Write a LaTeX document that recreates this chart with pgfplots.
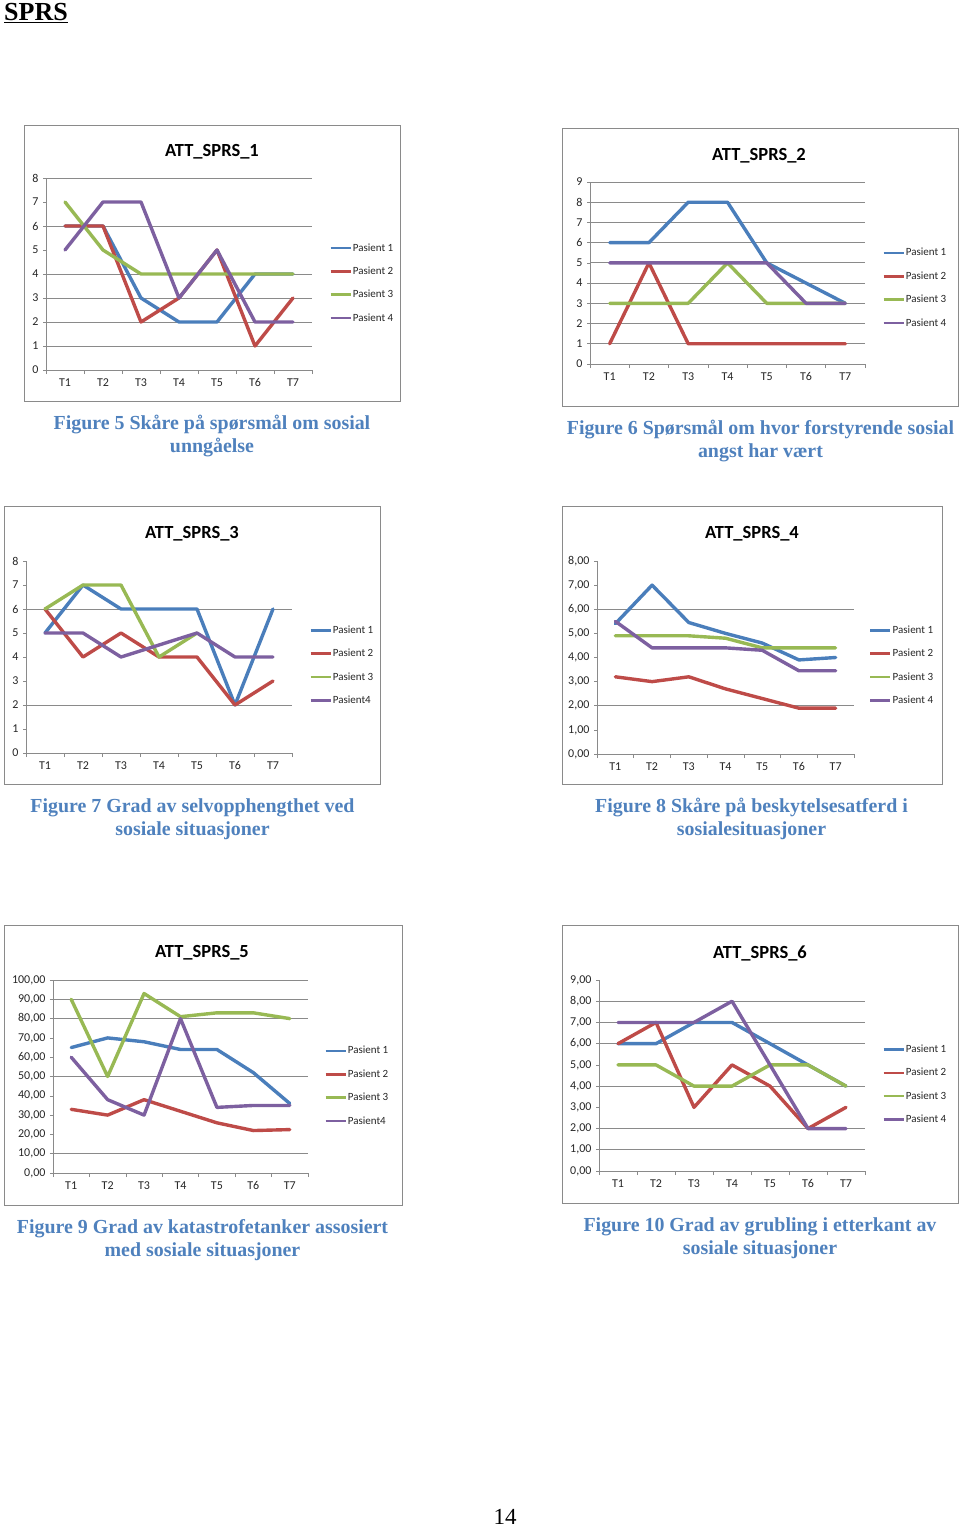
\documentclass[border=0pt]{standalone}
\usepackage{fontspec}
\setmainfont{Carlito}
\newfontfamily\tnr{Liberation Serif}
\usepackage{pgfplots}
\pgfplotsset{compat=1.18}
\definecolor{pblue}{HTML}{4A7EBB}
\definecolor{pred}{HTML}{BE4B48}
\definecolor{pgreen}{HTML}{98B954}
\definecolor{ppurple}{HTML}{7D60A0}
\definecolor{axgray}{HTML}{8A8A8A}
\definecolor{capblue}{HTML}{4F81BD}
\pgfplotsset{
  sprs/.style={
    scale only axis,
    axis lines*=left,
    axis line style={draw=axgray, line width=0.8pt},
    xmin=0.5, xmax=7.5,
    xtick={1,...,7},
    xticklabels={T1,T2,T3,T4,T5,T6,T7},
    minor xtick={0.5,1.5,...,7.5},
    major x tick style={draw=none},
    minor x tick style={draw=axgray, line width=0.6pt},
    ytick style={draw=axgray, line width=0.6pt},
    tick align=outside,
    major tick length=3pt, minor tick length=4pt,
    ymin=0,
    grid style={draw=axgray, line width=0.8pt},
    extra y tick labels={},
    extra y tick style={grid=major},
    tick label style={font=\fontsize{12}{14}\selectfont, text=black!85},
    /pgf/number format/assume math mode=true,
    xticklabel style={yshift=-2pt},
    yticklabel style={xshift=-1pt},
    clip=false,
    no markers,
    every axis plot/.append style={line width=3.4pt, line join=round, line cap=round},
    cycle list={{draw=pblue},{draw=pred},{draw=pgreen},{draw=ppurple}},
    legend entries={Pasient 1,Pasient 2,Pasient 3,Pasient 4},
    legend cell align=left,
    legend image code/.code={\draw[##1, line width=2.6pt, line cap=butt] (0pt,0pt) -- (20pt,0pt);},
    legend style={draw=none, fill=none, anchor=west, font=\fontsize{11}{13}\selectfont, text=black!85, inner sep=0pt, row sep=12.3pt, nodes={inner sep=1pt}},
  },
  comma/.style={yticklabel style={/pgf/number format/.cd, fixed, fixed zerofill, precision=2, use comma}},
}
\begin{document}
\begin{tikzpicture}
\path (0pt,0pt) rectangle (960pt,-1528pt);
% frames
\draw[axgray, line width=1pt] (24pt,-125pt) rectangle (400pt,-401pt);
\draw[axgray, line width=1pt] (562pt,-128pt) rectangle (958pt,-406pt);
\draw[axgray, line width=1pt] (4pt,-506pt) rectangle (380pt,-784pt);
\draw[axgray, line width=1pt] (562pt,-506pt) rectangle (942pt,-784pt);
\draw[axgray, line width=1pt] (4pt,-925pt) rectangle (402pt,-1205pt);
\draw[axgray, line width=1pt] (562pt,-925pt) rectangle (958pt,-1203pt);

% Chart 1
\begin{axis}[sprs, at={(46pt,-370pt)}, anchor=south west, width=266pt, height=192pt,
  ymax=8, ytick={0,...,8}, extra y ticks={1,2,3,4,6,8},
  legend style={at={(axis description cs:1.064,0.453)}}]
\addplot coordinates {(1,6) (2,6) (3,3) (4,2) (5,2) (6,4) (7,4)};
\addplot coordinates {(1,6) (2,6) (3,2) (4,3) (5,5) (6,1) (7,3)};
\addplot coordinates {(1,7) (2,5) (3,4) (4,4) (5,4) (6,4) (7,4)};
\addplot coordinates {(1,5) (2,7) (3,7) (4,3) (5,5) (6,2) (7,2)};
\end{axis}

% Chart 2
\begin{axis}[sprs, at={(590pt,-364pt)}, anchor=south west, width=275pt, height=182pt,
  ymax=9, ytick={0,...,9}, extra y ticks={1,...,9},
  legend style={at={(axis description cs:1.062,0.418)}}]
\addplot coordinates {(1,6) (2,6) (3,8) (4,8) (5,5) (6,4) (7,3)};
\addplot coordinates {(1,1) (2,5) (3,1) (4,1) (5,1) (6,1) (7,1)};
\addplot coordinates {(1,3) (2,3) (3,3) (4,5) (5,3) (6,3) (7,3)};
\addplot coordinates {(1,5) (2,5) (3,5) (4,5) (5,5) (6,3) (7,3)};
\end{axis}

% Chart 3
\begin{axis}[sprs, at={(26pt,-753pt)}, anchor=south west, width=266pt, height=192pt,
  ymax=8, ytick={0,...,8}, extra y ticks={2,6},
  legend entries={Pasient 1,Pasient 2,Pasient 3,Pasient4},
  legend style={at={(axis description cs:1.064,0.456)}}]
\addplot coordinates {(1,5) (2,7) (3,6) (4,6) (5,6) (6,2) (7,6)};
\addplot coordinates {(1,6) (2,4) (3,5) (4,4) (5,4) (6,2) (7,3)};
\addplot coordinates {(1,6) (2,7) (3,7) (4,4) (5,5)};
\addplot coordinates {(1,5) (2,5) (3,4) (4,4.5) (5,5) (6,4) (7,4)};
\end{axis}

% Chart 4
\begin{axis}[sprs, comma, at={(597pt,-754pt)}, anchor=south west, width=257pt, height=193pt,
  ymax=8, ytick={0,...,8}, extra y ticks={2,6},
  legend style={at={(axis description cs:1.058,0.459)}}]
\addplot coordinates {(1,5.4) (2,7.0) (3,5.45) (4,5.0) (5,4.6) (6,3.9) (7,4.0)};
\addplot coordinates {(1,3.2) (2,3.0) (3,3.2) (4,2.7) (5,2.3) (6,1.9) (7,1.9)};
\addplot coordinates {(1,4.9) (2,4.9) (3,4.9) (4,4.8) (5,4.4) (6,4.4) (7,4.4)};
\addplot coordinates {(1,5.5) (2,4.4) (3,4.4) (4,4.4) (5,4.3) (6,3.45) (7,3.45)};
\end{axis}

% Chart 5
\begin{axis}[sprs, comma, at={(53pt,-1173pt)}, anchor=south west, width=255pt, height=193pt,
  ymax=100, ytick={0,10,...,100}, extra y ticks={10,50,80,90,100},
  legend entries={Pasient 1,Pasient 2,Pasient 3,Pasient4},
  legend style={at={(axis description cs:1.063,0.451)}}]
\addplot coordinates {(1,65) (2,70) (3,68) (4,64) (5,64) (6,52) (7,36)};
\addplot coordinates {(1,33) (2,30) (3,38) (4,32) (5,26) (6,22) (7,22.5)};
\addplot coordinates {(1,90) (2,50) (3,93) (4,81) (5,83) (6,83) (7,80)};
\addplot coordinates {(1,60) (2,38) (3,30) (4,80) (5,34) (6,35) (7,35)};
\end{axis}

% Chart 6
\begin{axis}[sprs, comma, at={(599pt,-1171pt)}, anchor=south west, width=266pt, height=191pt,
  ymax=9, ytick={0,...,9}, extra y ticks={1,2,4,6,7,8},
  legend style={at={(axis description cs:1.064,0.453)}}]
\addplot coordinates {(1,6) (2,6) (3,7) (4,7) (5,6) (6,5) (7,4)};
\addplot coordinates {(1,6) (2,7) (3,3) (4,5) (5,4) (6,2) (7,3)};
\addplot coordinates {(1,5) (2,5) (3,4) (4,4) (5,5) (6,5) (7,4)};
\addplot coordinates {(1,7) (2,7) (3,7) (4,8) (5,5) (6,2) (7,2)};
\end{axis}

% chart titles
\begin{scope}[every node/.style={font=\bfseries\fontsize{18.5}{22}\selectfont, text=black}]
\node at (212pt,-152pt) {ATT\_SPRS\_1};
\node at (759pt,-156pt) {ATT\_SPRS\_2};
\node at (192pt,-534pt) {ATT\_SPRS\_3};
\node at (752pt,-534pt) {ATT\_SPRS\_4};
\node at (202pt,-953pt) {ATT\_SPRS\_5};
\node at (760pt,-953pt) {ATT\_SPRS\_6};
\end{scope}

% captions
\begin{scope}[every node/.style={font=\tnr\bfseries\fontsize{19.9}{23}\selectfont, text=capblue, align=center, inner sep=0pt}]
\node at (212pt,-436pt) {Figure 5 Skåre på spørsmål om sosial\\unngåelse};
\node at (760.5pt,-441pt) {Figure 6 Spørsmål om hvor forstyrende sosial\\angst har vært};
\node at (192.5pt,-819pt) {Figure 7 Grad av selvopphengthet ved\\sosiale situasjoner};
\node at (751.5pt,-819pt) {Figure 8 Skåre på beskytelsesatferd i\\sosialesituasjoner};
\node at (202.5pt,-1240pt) {Figure 9 Grad av katastrofetanker assosiert\\med sosiale situasjoner};
\node at (760pt,-1238pt) {Figure 10 Grad av grubling i etterkant av\\sosiale situasjoner};
\end{scope}

\node[anchor=base west, inner sep=0pt, font=\tnr\bfseries\fontsize{26}{30}\selectfont] at (4pt,-21pt) {\underline{SPRS}};
\node[anchor=base, inner sep=0pt, font=\tnr\fontsize{23}{27}\selectfont] at (505pt,-1524pt) {14};
\end{tikzpicture}
\end{document}
